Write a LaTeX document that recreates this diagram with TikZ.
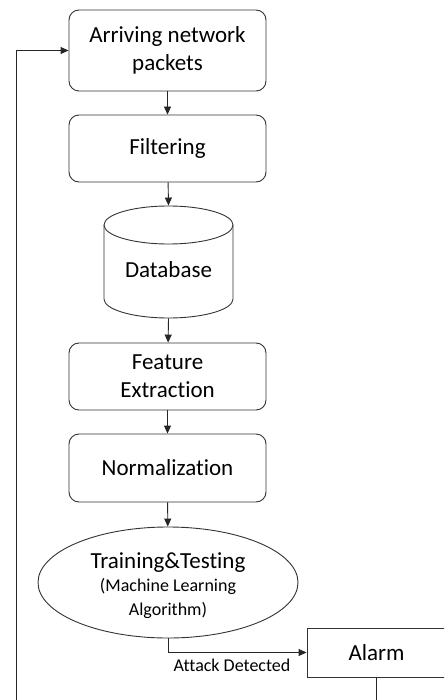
\documentclass[tikz,border=0pt]{standalone}
\usepackage{fontspec}
\setmainfont[Ligatures=NoCommon]{Carlito}
\usetikzlibrary{arrows.meta,shapes.geometric}
\begin{document}
\begin{tikzpicture}[x=1pt,y=-1pt,
  line width=0.9pt,
  every node/.style={text=black},
  bigtxt/.style={font=\fontsize{23}{28}\selectfont},
  smalltxt/.style={font=\fontsize{18}{22}\selectfont},
  procbox/.style={draw=black!80, rounded corners=10pt, minimum width=197pt, inner sep=0pt, align=center, bigtxt},
  conn/.style={draw=black!85, -{Triangle[length=8pt,width=7pt]}},
  plainline/.style={draw=black!85}
]
\clip (0,0) rectangle (444,700);
\fill[white] (0,0) rectangle (444,700);

% nodes
\node[procbox, minimum height=81pt] (arr) at (167.5,50.5) {Arriving network\\packets};
\node[procbox, minimum height=67pt] (filt) at (167.5,148.5) {Filtering};

% database cylinder
\node[minimum width=129pt, minimum height=112pt, inner sep=0pt] (db) at (168.5,262) {};
\draw[draw=black!80] (168.5,225) ellipse [x radius=64.5, y radius=19];
\draw[draw=black!80] (104,225) -- (104,299) arc[start angle=180, end angle=0, x radius=64.5, y radius=19] -- (233,225);
\node[bigtxt] (dbt) at (168.5,270) {Database};

\node[procbox, minimum height=67pt] (fe) at (167.5,376.5) {Feature\\Extraction};
\node[procbox, minimum height=68pt] (norm) at (167.5,468) {Normalization};

\node[ellipse, draw=black!80, minimum width=260pt, minimum height=111pt, inner sep=0pt] (tt) at (168,582.5) {};
\node[align=center, inner sep=0pt, font=\fontsize{18}{23.5}\selectfont] (ttt) at (168,585.5)
  {{\fontsize{23}{24}\selectfont Training\&Testing}\\(Machine Learning\\Algorithm)};

\node[draw=black!80, minimum width=139pt, minimum height=49pt, inner sep=0pt, bigtxt] (alarm) at (376.5,652.5) {Alarm};

\node[smalltxt, inner sep=0pt] (lbl) at (232,665) {Attack Detected};

\coordinate (c1) at (16.5,710);

% connectors
\draw[conn] (arr) -- (filt);
\draw[conn] (filt) -- (db.north);
\draw[conn] (db.south) -- (fe);
\draw[conn] (fe) -- (norm);
\draw[conn] (norm) -- (tt);
\draw[conn] (tt.south) |- (alarm.west);
\draw[conn] (alarm.south) |- (c1) |- (arr.west);
\end{tikzpicture}
\end{document}
